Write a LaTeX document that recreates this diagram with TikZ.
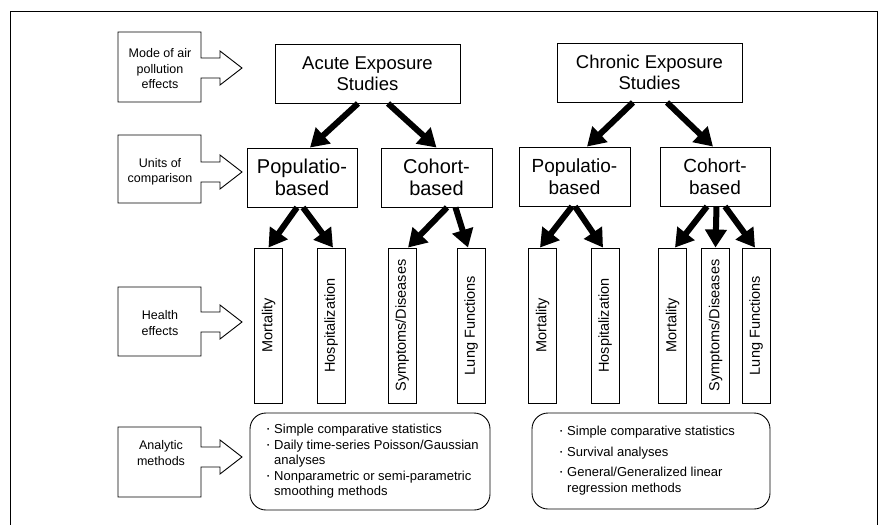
\documentclass[tikz,border=0pt]{standalone}
\usepackage{fontspec}
\setmainfont{Liberation Sans}
\usepackage{graphicx}
\usetikzlibrary{arrows.meta}
\newcommand{\lblarrow}[3]{%
  \draw[lblline] (118,#1) -- (201,#1) -- (201,#3-10) -- (220,#3-10) -- (220,#3-17)
    -- (242,#3) -- (220,#3+17) -- (220,#3+10) -- (201,#3+10) -- (201,#2) -- (118,#2) -- cycle;}
\newcommand{\bul}{\makebox[7pt][l]{\raisebox{0.3ex}{\scalebox{0.5}{\textbullet}}}}
\begin{document}
\begin{tikzpicture}[x=1pt,y=-1pt,
  lblline/.style={line width=0.9pt},
  lbltext/.style={align=center, inner sep=0pt, font=\fontsize{12.5}{15.5}\selectfont},
  topbox/.style={draw, line width=0.9pt, minimum width=185pt, minimum height=59pt, inner sep=0pt, align=center, font=\fontsize{18.5}{21}\selectfont},
  midbox/.style={draw, line width=0.9pt, minimum width=110pt, minimum height=59pt, inner sep=0pt, align=center},
  vbox/.style={draw, line width=0.9pt, minimum width=28pt, minimum height=155pt, inner sep=0pt, font=\fontsize{14.5}{17}\selectfont},
  rbox/.style={draw, line width=0.9pt, rounded corners=16pt, inner sep=0pt},
  listtext/.style={align=left, inner sep=0pt, anchor=west, font=\fontsize{13}{15.5}\selectfont},
  bigarrow/.style={line width=6pt, -{Triangle[width=21pt,length=18pt]}}
]
\useasboundingbox (0,0) rectangle (887,525);
% outer frame (open at the bottom)
\draw[line width=0.9pt] (10,525) -- (10,11) -- (877,11) -- (877,525);

% left labels with arrow shapes
\lblarrow{32}{102}{68}
\node[lbltext] (lmode) at (160,69) {Mode of air\\pollution\\effects};
\lblarrow{135}{203}{172}
\node[lbltext] (lunits) at (160,172) {Units of\\comparison};
\lblarrow{287}{356}{322}
\node[lbltext] (lhealth) at (160,323) {Health\\effects};
\lblarrow{427}{497}{457}
\node[lbltext] (lanalytic) at (161,453) {Analytic\\methods};

% top level
\node[topbox] (acute) at (367.5,73.5) {Acute Exposure\\Studies};
\node[topbox] (chronic) at (649.5,72.5) {Chronic Exposure\\Studies};

% second level
\node[midbox, font=\fontsize{20}{22}\selectfont] (pop1) at (302,177.5) {Populatio-\\based};
\node[midbox, minimum width=111pt, font=\fontsize{20}{22}\selectfont] (coh1) at (436.5,177.5) {Cohort-\\based};
\node[midbox, minimum width=111pt, font=\fontsize{19}{21.5}\selectfont] (pop2) at (574.5,176.5) {Populatio-\\based};
\node[midbox, font=\fontsize{19}{21.5}\selectfont] (coh2) at (715,176.5) {Cohort-\\based};

% health effects
\node[vbox] (m1) at (268.5,325.5) {\rotatebox{90}{Mortality}};
\node[vbox] (h1) at (331,325.5) {\rotatebox{90}{Hospitalization}};
\node[vbox] (s1) at (402,325.5) {\rotatebox{90}{Symptoms/Diseases}};
\node[vbox] (l1) at (471,325.5) {\rotatebox{90}{Lung Functions}};
\node[vbox] (m2) at (542.5,325.5) {\rotatebox{90}{Mortality}};
\node[vbox] (h2) at (605,325.5) {\rotatebox{90}{Hospitalization}};
\node[vbox] (m3) at (672.5,325.5) {\rotatebox{90}{Mortality}};
\node[vbox] (s3) at (715.5,325.5) {\rotatebox{90}{Symptoms/Diseases}};
\node[vbox] (l3) at (756,325.5) {\rotatebox{90}{Lung Functions}};

% arrows
\draw[bigarrow] ([xshift=-9.5pt]acute.south) -- ([xshift=8pt]pop1.north);
\draw[bigarrow] ([xshift=20.5pt]acute.south) -- (coh1.north);
\draw[bigarrow] ([xshift=-16.5pt]chronic.south) -- ([xshift=12.5pt]pop2.north);
\draw[bigarrow] ([xshift=17.5pt]chronic.south) -- ([xshift=-2pt]coh2.north);
\draw[bigarrow] ([xshift=-5pt]pop1.south) -- (m1.north);
\draw[bigarrow] ([xshift=1pt]pop1.south) -- ([xshift=2pt]h1.north);
\draw[bigarrow] ([xshift=10.5pt]coh1.south) -- ([xshift=6pt]s1.north);
\draw[bigarrow] ([xshift=19pt]coh1.south) -- ([xshift=-3pt]l1.north);
\draw[bigarrow] ([xshift=-2.5pt]pop2.south) -- ([xshift=-2.5pt]m2.north);
\draw[bigarrow] ([xshift=0.5pt]pop2.south) -- ([xshift=-2pt]h2.north);
\draw[bigarrow] ([xshift=-8pt]coh2.south) -- ([xshift=2.5pt]m3.north);
\draw[bigarrow] ([xshift=1.5pt]coh2.south) -- (s3.north);
\draw[bigarrow] ([xshift=10pt]coh2.south) -- ([xshift=-1pt]l3.north);

% analytic methods
\node[rbox, minimum width=240pt, minimum height=97pt] (ra) at (370,461.5) {};
\node[listtext] (ta) at (267,461.5) {\bul Simple comparative statistics\\
\bul Daily time-series Poisson/Gaussian\\
\hphantom{\bul}analyses\\
\bul Nonparametric or semi-parametric\\
\hphantom{\bul}smoothing methods};
\node[rbox, minimum width=238pt, minimum height=96pt] (rc) at (651,461) {};
\node[listtext, font=\fontsize{13}{16}\selectfont] (tc) at (560,460.5) {\bul Simple comparative statistics\\[4.5pt]
\bul Survival analyses\\[4pt]
\bul General/Generalized linear\\
\hphantom{\bul}regression methods};
\end{tikzpicture}
\end{document}
